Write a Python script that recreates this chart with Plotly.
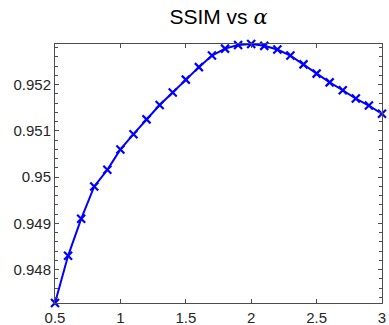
import plotly.graph_objects as go

alpha = [0.5, 0.6, 0.7, 0.8, 0.9, 1.0, 1.1, 1.2, 1.3, 1.4, 1.5, 1.6, 1.7,
         1.8, 1.9, 2.0, 2.1, 2.2, 2.3, 2.4, 2.5, 2.6, 2.7, 2.8, 2.9, 3.0]
ssim = [0.94728, 0.94830, 0.94910, 0.94980, 0.95016, 0.95060, 0.95093,
        0.95125, 0.95156, 0.95183, 0.95211, 0.95238, 0.95263, 0.95278,
        0.95286, 0.95288, 0.95284, 0.95276, 0.95263, 0.95244, 0.95224,
        0.95205, 0.95188, 0.95170, 0.95155, 0.95137]
xticks = [0.5, 1, 1.5, 2, 2.5, 3]
xlabels = ["0.5", "1", "1.5", "2", "2.5", "3"]
yticks = [0.948, 0.949, 0.950, 0.951, 0.952]
ylabels = ["0.948", "0.949", "0.95", "0.951", "0.952"]

fig = go.Figure()
fig.add_trace(go.Scatter(
    x=alpha, y=ssim, mode="lines+markers",
    line=dict(color="#0000ff", width=2),
    marker=dict(symbol="x-thin", size=8, line=dict(color="#0000ff", width=2.2), color="#0000ff"),
    showlegend=False, cliponaxis=False,
))

axcol = "#4d4d4d"
txtcol = "#262626"
fig.update_layout(
    width=389, height=325,
    margin=dict(l=55, r=7, t=44, b=22, autoexpand=False),
    paper_bgcolor="white", plot_bgcolor="white",
    font=dict(family="Liberation Sans, Arial, sans-serif", color=txtcol, size=15),
    title=dict(text="SSIM vs <i><span style='font-family:DejaVu Serif'>α</span></i>",
               x=218.5 / 389, xanchor="center", xref="container",
               y=1 - 17 / 325, yanchor="middle", yref="container",
               font=dict(size=21, color="black")),
    xaxis=dict(range=[0.5, 3], tickvals=xticks, ticktext=xlabels,
               showgrid=False, zeroline=False, showline=True, linecolor=axcol, linewidth=1,
               mirror="ticks", ticks="inside", ticklen=4, tickcolor=axcol, tickwidth=1,
               ticklabelstandoff=1),
    yaxis=dict(range=[min(ssim), max(ssim)], tickvals=yticks, ticktext=ylabels,
               showgrid=False, zeroline=False, showline=True, linecolor=axcol, linewidth=1,
               mirror="ticks", ticks="inside", ticklen=4, tickcolor=axcol, tickwidth=1,
               minor=dict(dtick=0.0002, ticks="inside", ticklen=3, tickcolor=axcol, showgrid=False)),
)
fig.write_html("out.html")
